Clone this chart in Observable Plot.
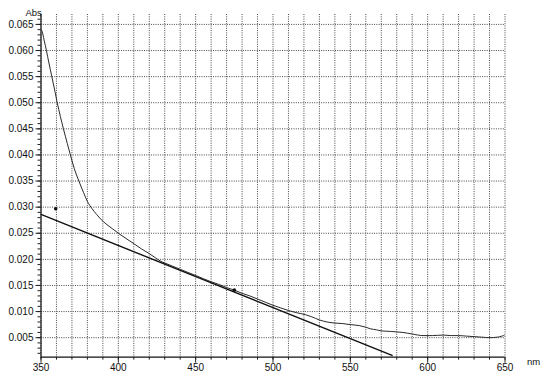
<!DOCTYPE html>
<html>
<head>
<meta charset="utf-8">
<script src="https://cdn.jsdelivr.net/npm/d3@7"></script>
<script src="https://cdn.jsdelivr.net/npm/@observablehq/plot@0.6"></script>
<style>
  html, body { margin: 0; padding: 0; background: #fff; }
  #chart svg { display: block; }
</style>
</head>
<body>
<div id="chart"></div>
<script>
// Absorption spectrum (nm, Abs)
const wavelengths = [350,350.7,352,353.5,355,357,359,360.5,362.5,364.5,367,369,371.5,374.5,377.5,380,383,386,389,392,396,401,405,410,415,420,424,427,430,435,440,445,450,455,460,465,470,475,480,485,490,495,500,505,510,515,521,525,530,535,540,545,550,556,560,563,567,570,576,580,584,590,597,603,610,615,620,625,630,635,640,645,648,650];
const absorbance  = [0.0640,0.0637,0.0620,0.0600,0.0578,0.0550,0.0522,0.0500,0.0474,0.0450,0.0422,0.0400,0.0374,0.0350,0.0328,0.0311,0.0297,0.0286,0.0276,0.0268,0.0259,0.0248,0.0240,0.0230,0.0220,0.0211,0.0203,0.0197,0.0193,0.0187,0.0181,0.0175,0.0169,0.0163,0.0157,0.0152,0.0146,0.0141,0.0135,0.0130,0.0124,0.0118,0.0112,0.0107,0.0102,0.0098,0.0094,0.0090,0.0084,0.0080,0.0078,0.0077,0.0075,0.0073,0.0070,0.0067,0.0065,0.0063,0.0062,0.0061,0.0060,0.0057,0.0054,0.0054,0.0055,0.0054,0.0054,0.0053,0.0052,0.0051,0.0050,0.0051,0.0053,0.0055];

// Straight baseline (tangent) line
const tangentX = [350, 577];
const tangentY = [0.0286, 0.0016];

// Cursor marks
const markerX = [359.5, 475];
const markerY = [0.0297, 0.0141];

// Axis ticks
const xMajorTicks = [350, 400, 450, 500, 550, 600, 650];
const xMinorTicks = d3.range(350, 651, 10);
const yMajorTicks = [0.005,0.010,0.015,0.020,0.025,0.030,0.035,0.040,0.045,0.050,0.055,0.060,0.065];
const yMinorTicks = d3.range(2, 67).map(d => d / 1000);

const yDomain = [0.00126, 0.0669];
const xDomain = [350, 650];

const spectrum = wavelengths.map((x, i) => ({x, y: absorbance[i]}));
const tangent = tangentX.map((x, i) => ({x, y: tangentY[i]}));
const markers = markerX.map((x, i) => ({x, y: markerY[i]}));

const font = "'Liberation Sans', Arial, sans-serif";
const chart = Plot.plot({
  width: 542,
  height: 380,
  marginLeft: 40.5,
  marginRight: 37.5,
  marginTop: 14,
  marginBottom: 23.3,
  style: {fontFamily: font, fontSize: "10px", color: "#111", background: "#fff"},
  x: {domain: xDomain},
  y: {domain: yDomain},
  marks: [
    Plot.gridX(xMinorTicks, {stroke: "#333", strokeOpacity: 0.9, strokeDasharray: "1,1.3"}),
    Plot.gridY(yMajorTicks, {stroke: "#333", strokeOpacity: 0.9, strokeDasharray: "1,1.3"}),
    Plot.axisY(yMinorTicks, {tickSize: 3, text: null, label: null, stroke: "#222"}),
    Plot.axisY(yMajorTicks, {tickSize: 5, tickPadding: 2.5, tickFormat: d3.format(".3f"), label: null, stroke: "#222", fill: "#111"}),
    Plot.axisX(xMinorTicks, {tickSize: 3, text: null, label: null, stroke: "#222"}),
    Plot.axisX(xMajorTicks, {tickSize: 6, tickPadding: 1, tickFormat: d3.format("d"), label: null, stroke: "#222", fill: "#111"}),
    Plot.ruleX([xDomain[0]], {stroke: "#111", strokeWidth: 1.2}),
    Plot.ruleY([yDomain[0]], {stroke: "#111", strokeWidth: 1.2}),
    Plot.line(tangent, {x: "x", y: "y", stroke: "#111", strokeWidth: 1.4, clip: true}),
    Plot.line(spectrum, {x: "x", y: "y", stroke: "#2a2a2a", strokeWidth: 1, curve: "monotone-x", clip: true}),
    Plot.dot(markers, {x: "x", y: "y", r: 1.8, fill: "#111", stroke: "none"}),
    Plot.text(["Abs"], {frameAnchor: "top-left", dx: -15.5, dy: -5.5, textAnchor: "start", fontSize: 9.5, fill: "#111"}),
    Plot.text(["nm"], {frameAnchor: "bottom-right", dx: 22, dy: 8, textAnchor: "start", fontSize: 9.5, fill: "#111"})
  ]
});
document.getElementById("chart").appendChild(chart);
</script>
</body>
</html>
